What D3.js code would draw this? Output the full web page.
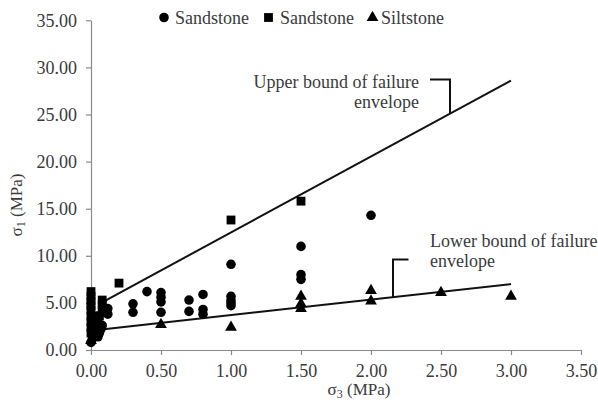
<!DOCTYPE html>
<html>
<head>
<meta charset="utf-8">
<script src="https://cdn.jsdelivr.net/npm/d3@7"></script>
<style>
  body { margin: 0; background: #fff; }
  svg text { font-family: "Liberation Serif", "Tinos", "Times New Roman", "DejaVu Serif", serif; fill: #3a3a3a; }
</style>
</head>
<body>
<svg id="chart" width="598" height="403"></svg>
<script>
// sandstone (circles)
let circX = [0.00,0.01,0.02,0.03,0.04,0.05,0.06,0.02,0.04,0.07,0.08,0.05,0.10,0.12,0.12,
             0.30,0.30,0.40,0.50,0.50,0.50,0.50,0.70,0.70,0.80,0.80,0.80,
             1.00,1.00,1.00,1.00,1.00,1.50,1.50,1.50,2.00];
let circY = [0.8,1.2,1.6,2.0,2.4,1.4,1.8,2.8,3.2,2.2,2.6,3.6,4.0,4.4,3.8,
             4.9,4.0,6.2,6.1,5.6,5.1,4.0,5.3,4.1,5.9,4.3,3.8,
             9.1,5.7,5.3,5.0,4.7,11.0,8.0,7.5,14.3];
// sandstone (squares)
let sqX = [0,0,0,0,0,0,0,0,0,0.08,0.08,0.08,0.06,0.05,0.20,1.00,1.50];
let sqY = [6.2,5.7,5.2,4.7,4.2,3.6,3.0,2.4,1.8,5.3,4.8,4.2,3.6,3.0,7.1,13.8,15.8];
// siltstone (triangles)
let triX = [0.00,0.02,0.05,0.50,1.00,1.50,1.50,1.50,2.00,2.00,2.50,3.00];
let triY = [1.0,1.8,2.6,2.7,2.4,5.7,4.9,4.4,6.3,5.2,6.1,5.7];
// failure envelopes
let upperX = [0.06, 3.00], upperY = [4.9, 28.6];
let lowerX = [0.06, 3.00], lowerY = [2.15, 7.0];

let xTicks = [0, 0.5, 1, 1.5, 2, 2.5, 3, 3.5];
let yTicks = [0, 5, 10, 15, 20, 25, 30, 35];
let legendNames = ["Sandstone", "Sandstone", "Siltstone"];

let svg = d3.select("#chart");

let x = d3.scaleLinear().domain([0, 3.5]).range([91, 581]);
let y = d3.scaleLinear().domain([0, 35]).range([350, 20.3]);
let fmt = d3.format(".2f");

let xAxis = svg.append("g")
    .attr("transform", "translate(0,350)")
    .call(d3.axisBottom(x).tickValues(xTicks).tickFormat(fmt).tickSizeInner(5).tickSizeOuter(0).tickPadding(9));
let yAxis = svg.append("g")
    .attr("transform", "translate(91,0)")
    .call(d3.axisLeft(y).tickValues(yTicks).tickFormat(fmt).tickSizeInner(5).tickSizeOuter(0).tickPadding(9));

[xAxis, yAxis].forEach(function(a) {
  a.attr("font-family", null).attr("font-size", null);
  a.selectAll("path, line").attr("stroke", "#8a8a8a").attr("stroke-width", 1.2);
  a.selectAll("text").attr("font-size", 18).attr("fill", "#3a3a3a");
});

// envelopes
let line = d3.line().x(function(d) { return x(d[0]); }).y(function(d) { return y(d[1]); });
svg.append("path").datum(d3.zip(upperX, upperY)).attr("d", line)
  .attr("fill", "none").attr("stroke", "#111").attr("stroke-width", 2);
svg.append("path").datum(d3.zip(lowerX, lowerY)).attr("d", line)
  .attr("fill", "none").attr("stroke", "#111").attr("stroke-width", 2);

// markers
let sym = {
  circle: d3.symbol().type(d3.symbolCircle).size(72),
  square: d3.symbol().type(d3.symbolSquare).size(78),
  triangle: d3.symbol().type(d3.symbolTriangle).size(60)
};
function plot(xs, ys, s) {
  svg.append("g").selectAll("path")
    .data(d3.zip(xs, ys))
    .enter().append("path")
      .attr("d", s)
      .attr("transform", function(d) { return "translate(" + x(d[0]) + "," + y(d[1]) + ")"; })
      .attr("fill", "#000");
}
plot(circX, circY, sym.circle);
plot(sqX, sqY, sym.square);
plot(triX, triY, sym.triangle);

// legend
let legX = [164, 268.5, 372.5], legTx = [175, 280, 381];
let legSym = [sym.circle, sym.square, sym.triangle];
legendNames.forEach(function(n, i) {
  svg.append("path").attr("d", legSym[i]).attr("fill", "#000")
    .attr("transform", "translate(" + legX[i] + ",17.5)");
  svg.append("text").attr("x", legTx[i]).attr("y", 23.5).attr("font-size", 18).text(n);
});

// annotations
let ux = x.invert(450), uy = upperY[0] + (upperY[1] - upperY[0]) * (ux - upperX[0]) / (upperX[1] - upperX[0]);
svg.append("path")
  .attr("d", "M430,79.5H450V" + y(uy))
  .attr("fill", "none").attr("stroke", "#111").attr("stroke-width", 2);
svg.append("text").attr("x", 419).attr("y", 88).attr("text-anchor", "end").attr("font-size", 18)
  .text("Upper bound of failure");
svg.append("text").attr("x", 419).attr("y", 108).attr("text-anchor", "end").attr("font-size", 18)
  .text("envelope");

let lx = x.invert(393), ly = lowerY[0] + (lowerY[1] - lowerY[0]) * (lx - lowerX[0]) / (lowerX[1] - lowerX[0]);
svg.append("path")
  .attr("d", "M408.5,259.5H393V" + y(ly))
  .attr("fill", "none").attr("stroke", "#111").attr("stroke-width", 2);
svg.append("text").attr("x", 430).attr("y", 247).attr("font-size", 18)
  .text("Lower bound of failure");
svg.append("text").attr("x", 430).attr("y", 267).attr("font-size", 18)
  .text("envelope");

// axis titles
let xt = svg.append("text").attr("x", 359).attr("y", 395).attr("text-anchor", "middle").attr("font-size", 17);
xt.append("tspan").text("\u03c3");
xt.append("tspan").attr("font-size", 12).attr("dy", 3).text("3");
xt.append("tspan").attr("dy", -3).text(" (MPa)");

let yt = svg.append("text").attr("transform", "translate(22,205) rotate(-90)")
  .attr("text-anchor", "middle").attr("font-size", 17);
yt.append("tspan").text("\u03c3");
yt.append("tspan").attr("font-size", 12).attr("dy", 3).text("1");
yt.append("tspan").attr("dy", -3).text(" (MPa)");
</script>
</body>
</html>
